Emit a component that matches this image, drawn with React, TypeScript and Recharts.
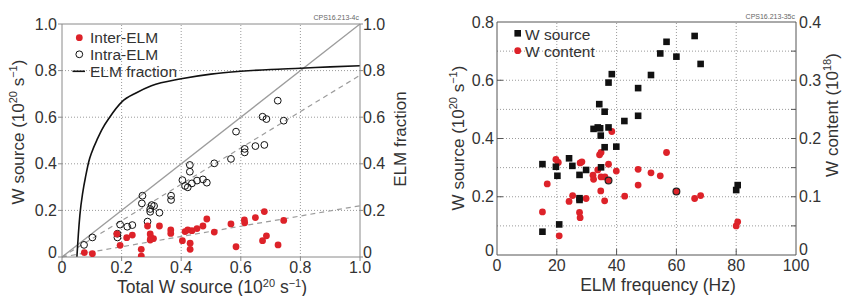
import { ComposedChart, Line, ReferenceLine, Scatter, XAxis, YAxis } from 'recharts';

// left panel: W source vs total W source
const leftTicks = [0, 0.2, 0.4, 0.6, 0.8, 1.0];
const leftGrid = [0.2, 0.4, 0.6, 0.8];

const identityLine = [{ x: 0, y: 0 }, { x: 1, y: 1 }];
const intraFit = [{ x: 0, y: 0 }, { x: 1, y: 0.78 }];
const interFit = [{ x: 0, y: 0 }, { x: 1, y: 0.22 }];

const elmFraction = [
  { x: 0.05, y: 0 }, { x: 0.055, y: 0.1 }, { x: 0.06, y: 0.18 }, { x: 0.07, y: 0.28 },
  { x: 0.08, y: 0.35 }, { x: 0.09, y: 0.41 }, { x: 0.1, y: 0.45 }, { x: 0.12, y: 0.51 },
  { x: 0.133, y: 0.545 }, { x: 0.16, y: 0.6 }, { x: 0.2, y: 0.665 }, { x: 0.25, y: 0.705 },
  { x: 0.3, y: 0.735 }, { x: 0.4, y: 0.765 }, { x: 0.5, y: 0.785 }, { x: 0.6, y: 0.797 },
  { x: 0.7, y: 0.805 }, { x: 0.8, y: 0.81 }, { x: 0.9, y: 0.816 }, { x: 1.0, y: 0.821 },
];

const intraElm = [
  { x: 0.074, y: 0.052 }, { x: 0.102, y: 0.084 }, { x: 0.186, y: 0.084 }, { x: 0.186, y: 0.1 },
  { x: 0.195, y: 0.139 }, { x: 0.219, y: 0.13 }, { x: 0.236, y: 0.137 }, { x: 0.287, y: 0.152 },
  { x: 0.268, y: 0.23 }, { x: 0.27, y: 0.263 }, { x: 0.296, y: 0.206 }, { x: 0.296, y: 0.194 },
  { x: 0.301, y: 0.223 }, { x: 0.309, y: 0.219 }, { x: 0.327, y: 0.19 }, { x: 0.366, y: 0.263 },
  { x: 0.366, y: 0.245 }, { x: 0.404, y: 0.33 }, { x: 0.413, y: 0.305 }, { x: 0.422, y: 0.299 },
  { x: 0.429, y: 0.395 }, { x: 0.429, y: 0.366 }, { x: 0.436, y: 0.316 }, { x: 0.453, y: 0.328 },
  { x: 0.473, y: 0.333 }, { x: 0.486, y: 0.319 }, { x: 0.511, y: 0.402 }, { x: 0.567, y: 0.421 },
  { x: 0.584, y: 0.538 }, { x: 0.613, y: 0.464 }, { x: 0.613, y: 0.449 }, { x: 0.649, y: 0.476 },
  { x: 0.679, y: 0.481 }, { x: 0.724, y: 0.671 }, { x: 0.673, y: 0.602 }, { x: 0.686, y: 0.592 },
  { x: 0.744, y: 0.585 },
];

const interElm = [
  { x: 0.075, y: 0.019 }, { x: 0.102, y: 0.014 }, { x: 0.184, y: 0.099 }, { x: 0.195, y: 0.05 },
  { x: 0.217, y: 0.083 }, { x: 0.236, y: 0.094 }, { x: 0.266, y: 0.033 }, { x: 0.266, y: 0.004 },
  { x: 0.287, y: 0.133 }, { x: 0.296, y: 0.099 }, { x: 0.298, y: 0.084 }, { x: 0.307, y: 0.079 },
  { x: 0.296, y: 0.073 }, { x: 0.327, y: 0.133 }, { x: 0.365, y: 0.116 }, { x: 0.365, y: 0.101 },
  { x: 0.404, y: 0.07 }, { x: 0.413, y: 0.109 }, { x: 0.422, y: 0.116 }, { x: 0.43, y: 0.059 },
  { x: 0.43, y: 0.033 }, { x: 0.436, y: 0.113 }, { x: 0.453, y: 0.122 }, { x: 0.473, y: 0.133 },
  { x: 0.486, y: 0.163 }, { x: 0.511, y: 0.107 }, { x: 0.567, y: 0.142 }, { x: 0.584, y: 0.044 },
  { x: 0.612, y: 0.159 }, { x: 0.613, y: 0.147 }, { x: 0.649, y: 0.169 }, { x: 0.673, y: 0.07 },
  { x: 0.679, y: 0.195 }, { x: 0.686, y: 0.091 }, { x: 0.725, y: 0.052 }, { x: 0.744, y: 0.157 },
];

// right panel: W source and W content vs ELM frequency
const freqTicks = [0, 20, 40, 60, 80, 100];
const freqGrid = [20, 40, 60, 80];
const sourceTicks = [0, 0.1, 0.2, 0.3, 0.4, 0.5, 0.6, 0.7, 0.8];
const sourceGrid = [0.1, 0.2, 0.3, 0.4, 0.5, 0.6, 0.7];
const contentTicks = [0, 0.05, 0.1, 0.15, 0.2, 0.25, 0.3, 0.35, 0.4];

const wSource = [
  { x: 66.1, y: 0.752 }, { x: 56.7, y: 0.732 }, { x: 54.6, y: 0.692 }, { x: 60.0, y: 0.681 },
  { x: 68.1, y: 0.656 }, { x: 38.4, y: 0.621 }, { x: 37.3, y: 0.592 }, { x: 51.5, y: 0.618 },
  { x: 47.2, y: 0.573 }, { x: 34.2, y: 0.518 }, { x: 36.0, y: 0.492 }, { x: 42.6, y: 0.46 },
  { x: 47.2, y: 0.478 }, { x: 32.3, y: 0.433 }, { x: 33.7, y: 0.438 }, { x: 34.5, y: 0.435 },
  { x: 37.3, y: 0.438 }, { x: 34.7, y: 0.41 }, { x: 36.0, y: 0.37 }, { x: 39.9, y: 0.372 },
  { x: 15.2, y: 0.312 }, { x: 24.1, y: 0.332 }, { x: 25.2, y: 0.306 }, { x: 19.7, y: 0.303 },
  { x: 20.2, y: 0.272 }, { x: 27.6, y: 0.275 }, { x: 29.8, y: 0.292 }, { x: 34.8, y: 0.301 },
  { x: 27.6, y: 0.195 }, { x: 27.6, y: 0.189 }, { x: 20.8, y: 0.105 }, { x: 15.2, y: 0.08 },
  { x: 80.0, y: 0.223 }, { x: 80.5, y: 0.24 },
];

const wContent = [
  { x: 38.4, y: 0.212 }, { x: 34.3, y: 0.172 }, { x: 34.8, y: 0.176 }, { x: 56.7, y: 0.176 },
  { x: 19.7, y: 0.164 }, { x: 20.5, y: 0.159 }, { x: 27.8, y: 0.158 }, { x: 28.4, y: 0.16 },
  { x: 37.3, y: 0.156 }, { x: 33.7, y: 0.146 }, { x: 32.1, y: 0.137 }, { x: 32.3, y: 0.13 },
  { x: 34.8, y: 0.134 }, { x: 36.1, y: 0.134 }, { x: 39.9, y: 0.144 }, { x: 47.2, y: 0.147 },
  { x: 51.5, y: 0.141 }, { x: 54.6, y: 0.136 }, { x: 47.2, y: 0.12 }, { x: 16.8, y: 0.122 },
  { x: 34.7, y: 0.11 }, { x: 25.3, y: 0.102 }, { x: 29.8, y: 0.097 }, { x: 24.1, y: 0.092 },
  { x: 36.0, y: 0.093 }, { x: 42.7, y: 0.101 }, { x: 66.1, y: 0.097 }, { x: 68.1, y: 0.102 },
  { x: 15.2, y: 0.074 }, { x: 27.6, y: 0.073 }, { x: 27.8, y: 0.064 }, { x: 20.8, y: 0.033 },
  { x: 80.0, y: 0.05 }, { x: 80.5, y: 0.057 },
];

// red points sitting on top of a black square, drawn with a dark rim
const wContentOverlap = [{ x: 37.3, y: 0.128 }, { x: 60.0, y: 0.109 }];

const FONT = '"Liberation Sans", Arial, sans-serif';
const TEXT = '#333';
const RED = '#dd2229';
const GRID = '#9a9a9a';

const fmt = (v: number) => (v === 0 ? '0' : v.toFixed(1));
const isMajorSource = (v: number) => Math.round(v * 10) % 2 === 0;
const isMajorContent = (v: number) => Math.round(v * 100) % 10 === 0;

const tickStyle = { fill: TEXT, fontSize: 16, fontFamily: FONT };

const redDot = (p: any) => <circle cx={p.cx} cy={p.cy} r={3.4} fill={RED} />;
const openDot = (p: any) => <circle cx={p.cx} cy={p.cy} r={3.4} fill="none" stroke="#111" strokeWidth={1} />;
const blackSquare = (p: any) => <rect x={p.cx - 3.3} y={p.cy - 3.3} width={6.6} height={6.6} fill="#111" />;
const rimDot = (p: any) => <circle cx={p.cx} cy={p.cy} r={3.4} fill={RED} stroke="#222" strokeWidth={1.2} />;

// y tick label; the bottom "0" sits a little above its tick, as in the original
const LeftYTick = (p: any) => {
  const v = p.payload.value;
  return (
    <text x={p.x} y={v === 0 ? p.y - 5 : p.y} dy="0.355em" textAnchor={p.textAnchor} {...tickStyle}>
      {fmt(v)}
    </text>
  );
};

// right panel ticks point into the plot
const FreqTick = (p: any) => {
  const v = p.payload.value;
  const inner = v > 0 && v < 100;
  return (
    <g>
      {inner && <line x1={p.x} x2={p.x} y1={p.y - 5} y2={p.y - 11} stroke="#555" />}
      <text x={p.x} y={p.y} dy="0.71em" textAnchor="middle" {...tickStyle}>
        {v}
      </text>
    </g>
  );
};

const SourceTick = (p: any) => {
  const v = p.payload.value;
  if (!isMajorSource(v)) return <g />;
  const inner = v > 0 && v < 0.8;
  return (
    <g>
      {inner && <line x1={p.x + 3} x2={p.x + 9} y1={p.y} y2={p.y} stroke="#555" />}
      <text x={p.x} y={v === 0 ? p.y - 5 : p.y} dy="0.355em" textAnchor="end" {...tickStyle}>
        {fmt(v)}
      </text>
    </g>
  );
};

const ContentTick = (p: any) => {
  const v = p.payload.value;
  const inner = v > 0 && v < 0.4;
  return (
    <g>
      {inner && <line x1={p.x - 3} x2={p.x - 8} y1={p.y} y2={p.y} stroke="#555" />}
      {isMajorContent(v) && (
        <text x={p.x} y={v === 0 ? p.y - 6 : p.y} dy="0.355em" textAnchor="start" {...tickStyle}>
          {fmt(v)}
        </text>
      )}
    </g>
  );
};

function LeftPanel() {
  return (
    <ComposedChart width={420} height={296} margin={{ top: 24, right: 0, bottom: 0, left: 0 }}>
      <XAxis
        type="number"
        dataKey="x"
        domain={[0, 1]}
        ticks={leftTicks}
        tickFormatter={fmt}
        height={39}
        tickSize={4}
        tickMargin={1}
        stroke="#8a8a8a"
        tick={tickStyle}
        allowDataOverflow
      />
      <YAxis
        yAxisId="l"
        type="number"
        dataKey="y"
        domain={[0, 1]}
        ticks={leftTicks}
        width={62}
        tickSize={4}
        tickMargin={1}
        stroke="#8a8a8a"
        tick={<LeftYTick />}
        allowDataOverflow
      />
      <YAxis
        yAxisId="r"
        orientation="right"
        type="number"
        dataKey="y"
        domain={[0, 1]}
        ticks={leftTicks}
        width={60}
        tickSize={3}
        tickMargin={0}
        stroke="#8a8a8a"
        tick={<LeftYTick />}
        allowDataOverflow
      />
      {leftGrid.map((v) => (
        <ReferenceLine key={'gx' + v} yAxisId="l" x={v} stroke={GRID} strokeDasharray="1 2" />
      ))}
      {leftGrid.map((v) => (
        <ReferenceLine key={'gy' + v} yAxisId="l" y={v} stroke={GRID} strokeDasharray="1 2" />
      ))}
      <ReferenceLine yAxisId="l" y={1} stroke="#8a8a8a" />
      <ReferenceLine yAxisId="l" segment={identityLine} stroke="#9c9c9c" strokeWidth={1.3} />
      <ReferenceLine yAxisId="l" segment={intraFit} stroke="#9c9c9c" strokeWidth={1.2} strokeDasharray="5 4" />
      <ReferenceLine yAxisId="l" segment={interFit} stroke="#9c9c9c" strokeWidth={1.2} strokeDasharray="5 4" />
      <Line
        yAxisId="r"
        data={elmFraction}
        dataKey="y"
        type="monotone"
        stroke="#111"
        strokeWidth={1.6}
        dot={false}
        isAnimationActive={false}
      />
      <Scatter yAxisId="l" data={intraElm} shape={openDot} isAnimationActive={false} />
      <Scatter yAxisId="l" data={interElm} shape={redDot} isAnimationActive={false} />
    </ComposedChart>
  );
}

function RightPanel() {
  return (
    <ComposedChart width={425} height={296} margin={{ top: 22, right: 0, bottom: 0, left: 0 }}>
      <XAxis
        type="number"
        dataKey="x"
        domain={[0, 100]}
        ticks={freqTicks}
        height={41}
        tickSize={0}
        tickMargin={5}
        stroke="#555"
        tick={<FreqTick />}
        allowDataOverflow
      />
      <YAxis
        yAxisId="l"
        type="number"
        dataKey="y"
        domain={[0, 0.8]}
        ticks={sourceTicks}
        width={77}
        tickSize={0}
        tickMargin={3}
        stroke="#555"
        tick={<SourceTick />}
        allowDataOverflow
      />
      <YAxis
        yAxisId="r"
        orientation="right"
        type="number"
        dataKey="y"
        domain={[0, 0.4]}
        ticks={contentTicks}
        width={49}
        tickSize={0}
        tickMargin={3}
        stroke="#555"
        tick={<ContentTick />}
        allowDataOverflow
      />
      {freqGrid.map((v) => (
        <ReferenceLine key={'gx' + v} yAxisId="l" x={v} stroke={GRID} strokeDasharray="1 2" />
      ))}
      {sourceGrid.map((v) => (
        <ReferenceLine key={'gy' + v} yAxisId="l" y={v} stroke={GRID} strokeDasharray="1 2" />
      ))}
      <ReferenceLine yAxisId="l" y={0.8} stroke="#555" />
      <Scatter yAxisId="r" data={wContent} shape={redDot} isAnimationActive={false} />
      <Scatter yAxisId="l" data={wSource} shape={blackSquare} isAnimationActive={false} />
      <Scatter yAxisId="r" data={wContentOverlap} shape={rimDot} isAnimationActive={false} />
    </ComposedChart>
  );
}

function Sup({ children, shift = 7 }: { children: string; shift?: number }) {
  return (
    <tspan dy={-shift} fontSize={11}>
      {children}
    </tspan>
  );
}

function Overlay() {
  const t = { fontFamily: FONT, fill: TEXT, fontSize: 17 };
  const leg = { fontFamily: FONT, fill: TEXT, fontSize: 15.5 };
  return (
    <svg width={845} height={296} style={{ position: 'absolute', left: 0, top: 0, pointerEvents: 'none' }}>
      {/* left panel titles */}
      <text {...t} textAnchor="middle" transform="translate(24,132) rotate(-90)">
        W source (10<Sup>20</Sup>
        <tspan dy={7}> s</tspan>
        <Sup>−1</Sup>
        <tspan dy={7}>)</tspan>
      </text>
      <text {...t} textAnchor="middle" transform="translate(406,139) rotate(-90)">
        ELM fraction
      </text>
      <text {...t} fontSize={17.5} textAnchor="middle" x={212} y={293}>
        Total W source (10<Sup shift={6}>20</Sup>
        <tspan dy={6}> s</tspan>
        <Sup shift={6}>−1</Sup>
        <tspan dy={6}>)</tspan>
      </text>
      <text fontFamily={FONT} fill="#666" fontSize={7} textAnchor="end" x={359} y={20}>
        CPS16.213-4c
      </text>
      {/* left legend */}
      <circle cx={79.3} cy={37.7} r={3.4} fill={RED} />
      <text {...leg} x={90} y={43}>Inter-ELM</text>
      <circle cx={79.3} cy={54.3} r={3.4} fill="none" stroke="#111" />
      <text {...leg} x={90} y={59.5}>Intra-ELM</text>
      <line x1={72.5} x2={85} y1={71.3} y2={71.3} stroke="#111" strokeWidth={1.6} />
      <text {...leg} x={90} y={76.5}>ELM fraction</text>

      {/* right panel titles */}
      <text {...t} textAnchor="middle" transform="translate(464,138) rotate(-90)">
        W source (10<Sup>20</Sup>
        <tspan dy={7}> s</tspan>
        <Sup>−1</Sup>
        <tspan dy={7}>)</tspan>
      </text>
      <text {...t} textAnchor="middle" transform="translate(838,115) rotate(-90)">
        W content (10<Sup>18</Sup>
        <tspan dy={7}>)</tspan>
      </text>
      <text {...t} fontSize={17.5} textAnchor="middle" x={658} y={291}>
        ELM frequency (Hz)
      </text>
      <text fontFamily={FONT} fill="#666" fontSize={7} textAnchor="end" x={795} y={19}>
        CPS16.213-35c
      </text>
      {/* right legend */}
      <rect x={514.4} y={30} width={6.6} height={6.6} fill="#111" />
      <text {...leg} x={525} y={40}>W source</text>
      <circle cx={517.7} cy={50.7} r={3.4} fill={RED} />
      <text {...leg} x={525} y={56.5}>W content</text>
    </svg>
  );
}

export default function App() {
  return (
    <div style={{ position: 'absolute', left: 0, top: 0, width: 845, height: 296, background: '#fff' }}>
      <div style={{ position: 'absolute', left: 0, top: 0 }}>
        <LeftPanel />
      </div>
      <div style={{ position: 'absolute', left: 420, top: 0 }}>
        <RightPanel />
      </div>
      <Overlay />
    </div>
  );
}
